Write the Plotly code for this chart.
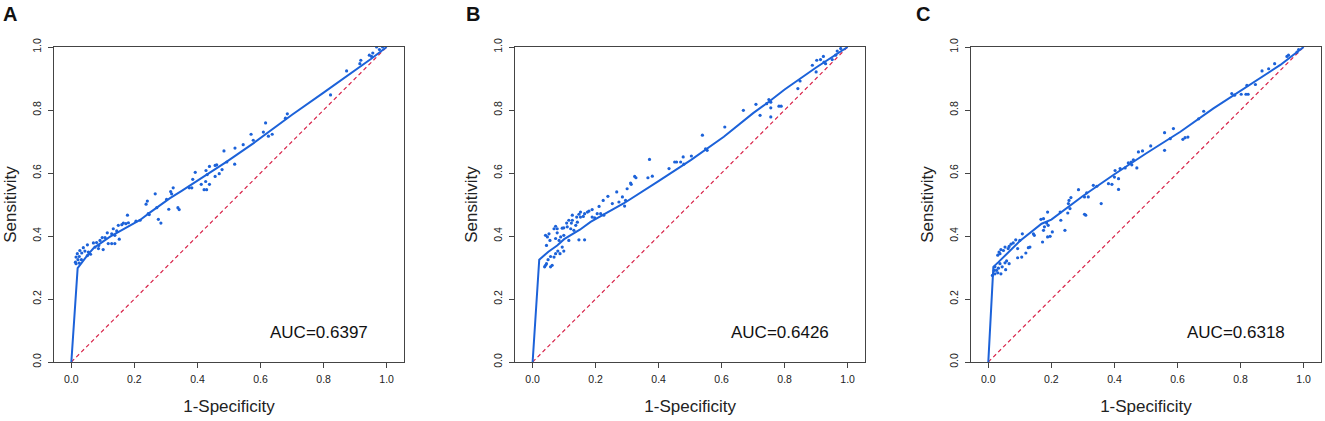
import plotly.graph_objects as go

# ROC curves (smoothed fit)
curve_a_x = [0, 0.02, 0.05, 0.07, 0.1, 0.123, 0.15, 0.218, 0.25, 0.313, 0.35, 0.387, 0.493, 0.577, 0.7, 0.8, 0.9, 0.95, 1.0]
curve_a_y = [0, 0.298, 0.338, 0.361, 0.382, 0.398, 0.413, 0.451, 0.475, 0.52, 0.543, 0.567, 0.636, 0.694, 0.785, 0.855, 0.925, 0.962, 1.0]

curve_b_x = [0, 0.021, 0.05, 0.078, 0.1, 0.15, 0.184, 0.29, 0.396, 0.502, 0.607, 0.7, 0.75, 0.8, 0.9, 1.0]
curve_b_y = [0, 0.325, 0.35, 0.37, 0.39, 0.42, 0.445, 0.504, 0.572, 0.641, 0.715, 0.79, 0.826, 0.865, 0.935, 1.0]

curve_c_x = [0, 0.016, 0.032, 0.074, 0.1, 0.169, 0.2, 0.3, 0.4, 0.5, 0.609, 0.714, 0.82, 0.926, 1.0]
curve_c_y = [0, 0.302, 0.317, 0.36, 0.384, 0.439, 0.452, 0.527, 0.596, 0.662, 0.731, 0.805, 0.874, 0.943, 1.0]

# observed points
pts_a_x = [0.987, 0.977, 0.968, 0.956, 0.952, 0.945, 0.918, 0.915, 0.873, 0.822, 0.685, 0.679,
           0.616, 0.609, 0.637, 0.625, 0.570, 0.577, 0.545, 0.519, 0.484, 0.493, 0.518, 0.461,
           0.456, 0.478, 0.469, 0.456, 0.438, 0.427, 0.431, 0.426, 0.438, 0.412, 0.421, 0.429,
           0.393, 0.385, 0.374, 0.382, 0.323, 0.315, 0.318, 0.302, 0.266, 0.241, 0.237, 0.271,
           0.309, 0.342, 0.338, 0.276, 0.284, 0.244, 0.247, 0.218, 0.205, 0.178, 0.165, 0.173,
           0.181, 0.149, 0.160, 0.133, 0.144, 0.114, 0.128, 0.138, 0.152, 0.107, 0.117, 0.128,
           0.138, 0.091, 0.098, 0.080, 0.087, 0.070, 0.075, 0.086, 0.101, 0.051, 0.038, 0.043,
           0.054, 0.027, 0.033, 0.019, 0.025, 0.015, 0.013, 0.021, 0.032, 0.051, 0.061, 0.015, 0.025]
pts_a_y = [1.000, 0.992, 1.000, 0.981, 0.970, 0.974, 0.958, 0.947, 0.924, 0.848, 0.788, 0.774,
           0.759, 0.730, 0.723, 0.717, 0.723, 0.704, 0.690, 0.679, 0.670, 0.635, 0.628, 0.626,
           0.624, 0.611, 0.598, 0.589, 0.621, 0.608, 0.595, 0.573, 0.564, 0.564, 0.547, 0.547,
           0.602, 0.580, 0.553, 0.553, 0.553, 0.541, 0.534, 0.516, 0.534, 0.511, 0.501, 0.490,
           0.485, 0.484, 0.490, 0.453, 0.441, 0.471, 0.468, 0.450, 0.447, 0.466, 0.441, 0.439,
           0.442, 0.434, 0.436, 0.423, 0.416, 0.410, 0.407, 0.402, 0.390, 0.395, 0.376, 0.376,
           0.376, 0.386, 0.395, 0.379, 0.370, 0.378, 0.365, 0.360, 0.357, 0.372, 0.363, 0.352,
           0.349, 0.354, 0.346, 0.344, 0.335, 0.333, 0.317, 0.325, 0.325, 0.338, 0.342, 0.312, 0.314]

pts_b_x = [0.978, 0.967, 0.962, 0.951, 0.923, 0.914, 0.925, 0.902, 0.888, 0.900, 0.930, 0.842,
           0.849, 0.782, 0.789, 0.750, 0.756, 0.743, 0.756, 0.756, 0.722, 0.709, 0.669, 0.610,
           0.554, 0.549, 0.539, 0.504, 0.478, 0.480, 0.470, 0.457, 0.451, 0.433, 0.371, 0.380,
           0.366, 0.328, 0.324, 0.313, 0.300, 0.311, 0.292, 0.295, 0.285, 0.267, 0.239, 0.253,
           0.274, 0.224, 0.211, 0.205, 0.216, 0.226, 0.189, 0.179, 0.174, 0.165, 0.189, 0.197,
           0.152, 0.147, 0.140, 0.152, 0.161, 0.126, 0.126, 0.137, 0.142, 0.108, 0.115, 0.123,
           0.099, 0.110, 0.094, 0.121, 0.131, 0.147, 0.165, 0.115, 0.099, 0.068, 0.078, 0.073,
           0.078, 0.084, 0.089, 0.073, 0.094, 0.099, 0.087, 0.080, 0.073, 0.068, 0.057, 0.049,
           0.062, 0.057, 0.044, 0.038, 0.041, 0.041, 0.047, 0.052, 0.044, 0.055]
pts_b_y = [0.995, 0.987, 0.974, 0.960, 0.970, 0.960, 0.952, 0.958, 0.942, 0.921, 0.947, 0.868,
           0.892, 0.812, 0.812, 0.833, 0.825, 0.820, 0.807, 0.778, 0.783, 0.818, 0.799, 0.746,
           0.672, 0.677, 0.720, 0.654, 0.651, 0.628, 0.635, 0.635, 0.635, 0.614, 0.643, 0.590,
           0.585, 0.585, 0.589, 0.564, 0.550, 0.568, 0.495, 0.513, 0.524, 0.540, 0.526, 0.503,
           0.508, 0.513, 0.494, 0.471, 0.471, 0.466, 0.484, 0.479, 0.476, 0.471, 0.460, 0.458,
           0.476, 0.469, 0.460, 0.460, 0.462, 0.466, 0.450, 0.434, 0.444, 0.441, 0.450, 0.441,
           0.426, 0.429, 0.425, 0.423, 0.418, 0.388, 0.388, 0.386, 0.402, 0.423, 0.423, 0.431,
           0.410, 0.386, 0.397, 0.392, 0.365, 0.352, 0.344, 0.352, 0.344, 0.333, 0.335, 0.325,
           0.307, 0.302, 0.312, 0.302, 0.307, 0.402, 0.397, 0.407, 0.370, 0.386]

pts_c_x = [0.984, 0.979, 0.947, 0.952, 0.908, 0.889, 0.868, 0.847, 0.820, 0.824, 0.802, 0.817,
           0.781, 0.772, 0.683, 0.667, 0.633, 0.624, 0.617, 0.587, 0.559, 0.559, 0.577, 0.515,
           0.489, 0.476, 0.471, 0.460, 0.453, 0.444, 0.455, 0.434, 0.418, 0.413, 0.402, 0.400,
           0.413, 0.381, 0.392, 0.358, 0.344, 0.333, 0.312, 0.317, 0.305, 0.309, 0.305, 0.286,
           0.262, 0.256, 0.254, 0.259, 0.252, 0.243, 0.228, 0.230, 0.203, 0.196, 0.188, 0.188,
           0.185, 0.190, 0.175, 0.178, 0.172, 0.175, 0.167, 0.143, 0.146, 0.132, 0.127, 0.108,
           0.100, 0.093, 0.119, 0.106, 0.093, 0.087, 0.079, 0.072, 0.066, 0.063, 0.053, 0.048,
           0.040, 0.034, 0.030, 0.037, 0.058, 0.066, 0.053, 0.055, 0.044, 0.037, 0.032, 0.021,
           0.013, 0.021, 0.030, 0.040, 0.019, 0.026]
pts_c_y = [0.992, 0.984, 0.970, 0.974, 0.947, 0.931, 0.924, 0.881, 0.878, 0.850, 0.850, 0.850,
           0.847, 0.852, 0.796, 0.772, 0.714, 0.712, 0.707, 0.741, 0.728, 0.672, 0.709, 0.686,
           0.670, 0.667, 0.616, 0.642, 0.635, 0.632, 0.626, 0.616, 0.614, 0.582, 0.608, 0.587,
           0.548, 0.566, 0.564, 0.503, 0.558, 0.561, 0.537, 0.524, 0.524, 0.466, 0.469, 0.547,
           0.522, 0.513, 0.503, 0.487, 0.473, 0.418, 0.476, 0.450, 0.413, 0.399, 0.397, 0.476,
           0.441, 0.434, 0.418, 0.429, 0.381, 0.455, 0.453, 0.407, 0.402, 0.365, 0.363, 0.407,
           0.386, 0.360, 0.346, 0.333, 0.331, 0.388, 0.378, 0.374, 0.367, 0.360, 0.365, 0.354,
           0.357, 0.349, 0.339, 0.344, 0.321, 0.312, 0.315, 0.293, 0.302, 0.312, 0.298, 0.302,
           0.275, 0.280, 0.283, 0.280, 0.291, 0.291]

auc_labels = ["AUC=0.6397", "AUC=0.6426", "AUC=0.6318"]
panel_letters = ["A", "B", "C"]
tick_vals = [0, 0.2, 0.4, 0.6, 0.8, 1.0]

BLUE = "#1c62d9"
RED = "#d8244a"
FONT = "Arial, Liberation Sans, sans-serif"

panels = [
    (curve_a_x, curve_a_y, pts_a_x, pts_a_y),
    (curve_b_x, curve_b_y, pts_b_x, pts_b_y),
    (curve_c_x, curve_c_y, pts_c_x, pts_c_y),
]
x_domains = [[0.04075, 0.30491], [0.3889, 0.6528], [0.7328, 0.99698]]
y_domain = [0.14014, 0.88836]
letter_x = [0.001, 0.35, 0.69]

fig = go.Figure()
annotations = []

for i, (cx, cy, px, py) in enumerate(panels):
    n = "" if i == 0 else str(i + 1)
    xa, ya = "x" + n, "y" + n

    # reference diagonal
    fig.add_trace(go.Scatter(x=[0, 1], y=[0, 1], mode="lines", xaxis=xa, yaxis=ya,
                             line=dict(color=RED, width=1.2, dash="4px,3px"),
                             showlegend=False, hoverinfo="skip"))
    fig.add_trace(go.Scatter(x=px, y=py, mode="markers", xaxis=xa, yaxis=ya,
                             marker=dict(color=BLUE, size=3.2),
                             showlegend=False))
    fig.add_trace(go.Scatter(x=cx, y=cy, mode="lines", xaxis=xa, yaxis=ya,
                             line=dict(color=BLUE, width=2),
                             showlegend=False))

    axis_common = dict(showline=True, mirror=True, linecolor="#444", linewidth=1.3,
                       ticks="outside", ticklen=5, tickwidth=1, tickcolor="#444",
                       tickvals=tick_vals, tickformat=".1f", showgrid=False, zeroline=False,
                       tickfont=dict(family=FONT, size=10.5, color="#222"), automargin=False)
    fig.update_layout(**{
        "xaxis" + n: dict(axis_common, domain=x_domains[i], range=[-0.055, 1.055], anchor=ya,
                          ticklabelstandoff=2,
                          title=dict(text="1-Specificity", standoff=16,
                                     font=dict(family=FONT, size=17, color="#222"))),
        "yaxis" + n: dict(axis_common, domain=y_domain, range=[0, 1], anchor=xa, tickangle=-90,
                          ticklabelstandoff=3,
                          title=dict(text="Sensitivity", standoff=9,
                                     font=dict(family=FONT, size=17, color="#222"))),
    })

    annotations.append(dict(x=0.785, y=0.095, xref=xa, yref=ya, text=auc_labels[i],
                            showarrow=False, font=dict(family=FONT, size=17, color="#111")))
    annotations.append(dict(x=letter_x[i], y=0.997, xref="paper", yref="paper",
                            text="<b>" + panel_letters[i] + "</b>", showarrow=False,
                            xanchor="left", yanchor="top",
                            font=dict(family=FONT, size=20, color="#111")))

fig.update_layout(width=1325, height=421, margin=dict(l=0, r=0, t=0, b=0),
                  paper_bgcolor="white", plot_bgcolor="white",
                  annotations=annotations)

# the page's default body margin would shift the fixed-size figure by 8px
fig.write_html("out.html", config={"displayModeBar": False},
               post_script="document.body.style.margin='0';")
